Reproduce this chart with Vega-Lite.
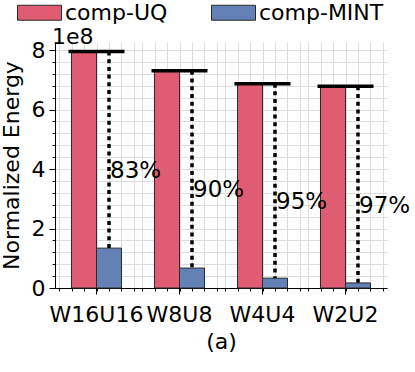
{
  "$schema": "https://vega.github.io/schema/vega-lite/v6.json",
  "width": 332,
  "height": 246,
  "autosize": "none",
  "padding": {"left": 55, "top": 42, "right": 28, "bottom": 84},
  "config": {
    "font": "DejaVu Sans",
    "view": {"stroke": null},
    "axis": {
      "labelFont": "DejaVu Sans",
      "titleFont": "DejaVu Sans",
      "labelColor": "black",
      "titleColor": "black",
      "labelFontSize": 22,
      "titleFontSize": 22,
      "titleFontWeight": "normal",
      "domainColor": "black",
      "tickColor": "black",
      "gridColor": "#dddddd",
      "gridOpacity": 1,
      "gridWidth": 1
    },
    "legend": {
      "labelFont": "DejaVu Sans",
      "labelFontSize": 22,
      "labelColor": "black"
    }
  },
  "title": {
    "text": "1e8",
    "anchor": "start",
    "frame": "group",
    "fontSize": 22,
    "fontWeight": "normal",
    "font": "DejaVu Sans",
    "color": "black",
    "offset": -59,
    "dx": -3
  },
  "data": {
    "values": [
      {"config": "W16U16", "series": "comp-UQ", "energy": 795000000},
      {"config": "W16U16", "series": "comp-MINT", "energy": 134000000, "saving": "83%"},
      {"config": "W8U8", "series": "comp-UQ", "energy": 730000000},
      {"config": "W8U8", "series": "comp-MINT", "energy": 67000000, "saving": "90%"},
      {"config": "W4U4", "series": "comp-UQ", "energy": 687000000},
      {"config": "W4U4", "series": "comp-MINT", "energy": 33000000, "saving": "95%"},
      {"config": "W2U2", "series": "comp-UQ", "energy": 678000000},
      {"config": "W2U2", "series": "comp-MINT", "energy": 17000000, "saving": "97%"}
    ]
  },
  "layer": [
    {
      "mark": {"type": "point", "opacity": 0},
      "encoding": {
        "x": {
          "datum": 0,
          "type": "quantitative",
          "scale": {"domain": [-0.5, 3.5], "nice": false, "zero": false},
          "axis": {
            "orient": "bottom",
            "values": [-0.45, -0.3, -0.15, 0, 0.15, 0.3, 0.45, 0.55, 0.7, 0.85, 1, 1.15, 1.3, 1.45, 1.55, 1.7, 1.85, 2, 2.15, 2.3, 2.45, 2.55, 2.7, 2.85, 3, 3.15, 3.3, 3.45],
            "labels": false,
            "domain": false,
            "ticks": true,
            "tickSize": 3,
            "grid": true,
            "zindex": 0,
            "title": null
          }
        },
        "y": {
          "field": "energy",
          "type": "quantitative",
          "scale": {"domain": [0, 827000000], "nice": false, "zero": false},
          "axis": {
            "orient": "left",
            "values": [0, 40000000, 80000000, 120000000, 160000000, 200000000, 240000000, 280000000, 320000000, 360000000, 400000000, 440000000, 480000000, 520000000, 560000000, 600000000, 640000000, 680000000, 720000000, 760000000, 800000000],
            "labels": false,
            "domain": false,
            "ticks": true,
            "tickSize": 3,
            "grid": true,
            "zindex": 0,
            "title": null
          }
        }
      }
    },
    {
      "layer": [
        {
          "mark": {"type": "bar", "stroke": "#2a2a2a", "strokeWidth": 1},
          "encoding": {
            "x": {
              "field": "config",
              "type": "nominal",
              "sort": ["W16U16", "W8U8", "W4U4", "W2U2"],
              "scale": {"paddingInner": 0, "paddingOuter": 0},
              "axis": {
                "orient": "bottom",
                "title": "(a)",
                "labelAngle": 0,
                "tickSize": 6,
                "labelPadding": 10,
                "titlePadding": 6
              }
            },
            "xOffset": {
              "field": "series",
              "sort": ["comp-UQ", "comp-MINT"],
              "scale": {"paddingInner": 0, "paddingOuter": 0.66}
            },
            "y": {
              "field": "energy",
              "type": "quantitative",
              "scale": {"domain": [0, 827000000], "nice": false},
              "axis": {
                "orient": "left",
                "title": "Normalized Energy",
                "values": [0, 200000000, 400000000, 600000000, 800000000],
                "labelExpr": "format(datum.value / 100000000, 'd')",
                "domain": true,
                "ticks": true,
                "tickSize": 6,
                "labelPadding": 4,
                "titlePadding": 8,
                "grid": false
              }
            },
            "color": {
              "field": "series",
              "type": "nominal",
              "scale": {"domain": ["comp-UQ", "comp-MINT"], "range": ["#e05c72", "#6381b5"]},
              "legend": {
                "title": null,
                "orient": "none",
                "legendX": -38,
                "legendY": -52,
                "direction": "horizontal",
                "symbolType": "M-1,-0.34H1V0.34H-1Z",
                "symbolSize": 1936,
                "symbolStrokeColor": "#2a2a2a",
                "symbolStrokeWidth": 1,
                "symbolOpacity": 1,
                "labelOffset": 3,
                "columnPadding": 41,
                "padding": 0
              }
            }
          }
        },
        {
          "transform": [{"filter": "datum.series === 'comp-UQ'"}],
          "mark": {"type": "tick", "color": "black", "opacity": 1, "thickness": 3.5, "size": 56, "orient": "horizontal"},
          "encoding": {
            "x": {"field": "config", "type": "nominal", "sort": ["W16U16", "W8U8", "W4U4", "W2U2"]},
            "y": {"field": "energy", "type": "quantitative"}
          }
        },
        {
          "transform": [{"pivot": "series", "value": "energy", "groupby": ["config"]}],
          "mark": {"type": "rule", "color": "black", "strokeWidth": 3.5, "strokeDash": [4, 3.7]},
          "encoding": {
            "x": {"field": "config", "type": "nominal", "sort": ["W16U16", "W8U8", "W4U4", "W2U2"]},
            "xOffset": {"datum": "comp-MINT"},
            "y": {"field": "comp-UQ", "type": "quantitative"},
            "y2": {"field": "comp-MINT"}
          }
        },
        {
          "transform": [
            {"joinaggregate": [{"op": "mean", "field": "energy", "as": "mid"}], "groupby": ["config"]},
            {"filter": "datum.series === 'comp-MINT'"}
          ],
          "mark": {"type": "text", "align": "left", "baseline": "middle", "dx": 1, "dy": 21, "fontSize": 23, "color": "black", "font": "DejaVu Sans"},
          "encoding": {
            "x": {"field": "config", "type": "nominal", "sort": ["W16U16", "W8U8", "W4U4", "W2U2"]},
            "xOffset": {"datum": "comp-MINT"},
            "y": {"field": "mid", "type": "quantitative"},
            "text": {"field": "saving"}
          }
        }
      ]
    }
  ],
  "resolve": {
    "scale": {"x": "independent", "y": "independent"},
    "axis": {"x": "independent", "y": "independent"}
  }
}
